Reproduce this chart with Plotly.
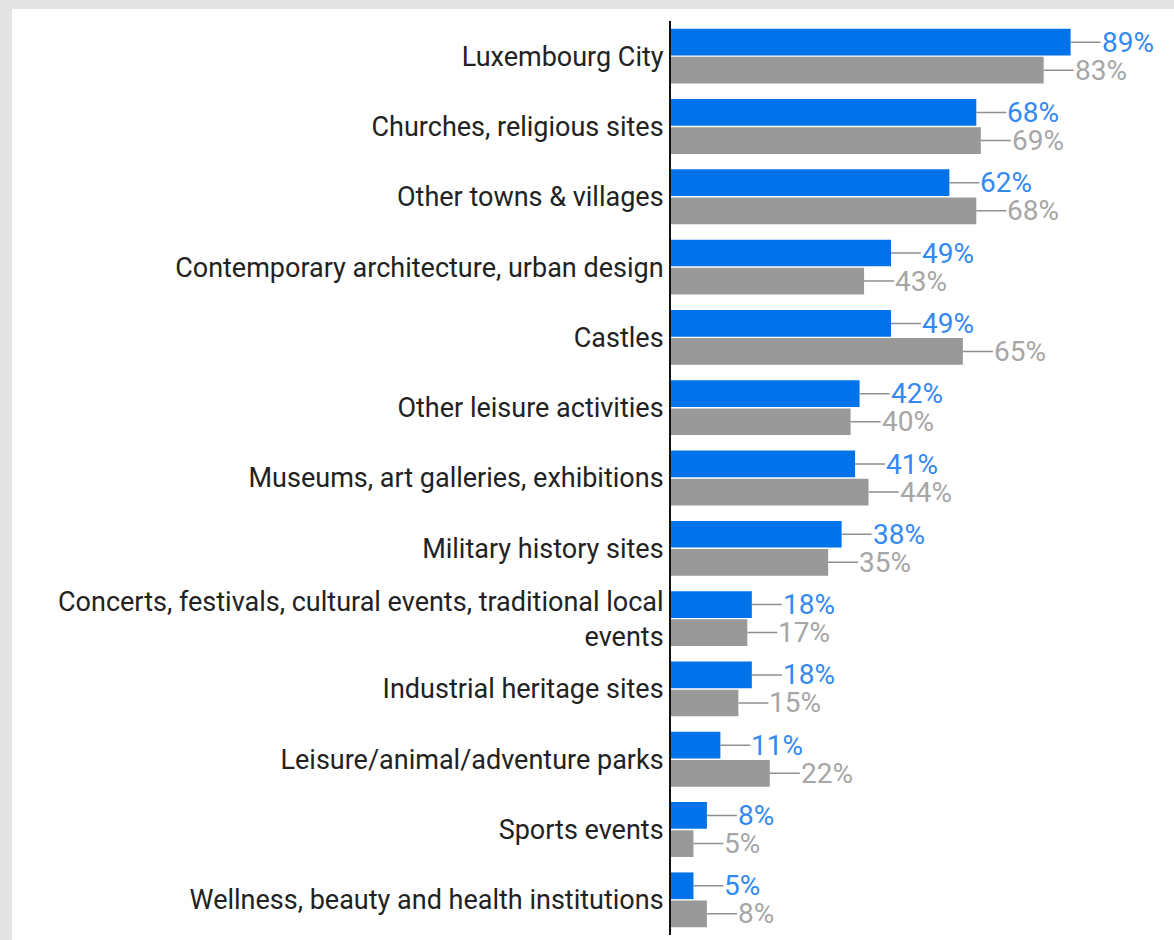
import plotly.graph_objects as go

categories = [
    "Luxembourg City",
    "Churches, religious sites",
    "Other towns & villages",
    "Contemporary architecture, urban design",
    "Castles",
    "Other leisure activities",
    "Museums, art galleries, exhibitions",
    "Military history sites",
    "Concerts, festivals, cultural events, traditional local<br>events",
    "Industrial heritage sites",
    "Leisure/animal/adventure parks",
    "Sports events",
    "Wellness, beauty and health institutions",
]
series_blue = [89, 68, 62, 49, 49, 42, 41, 38, 18, 18, 11, 8, 5]
series_gray = [83, 69, 68, 43, 65, 40, 44, 35, 17, 15, 22, 5, 8]

W, H = 1174, 940
ML, MR, MT, MB = 671, 54, 21, 5
PW, PH = W - ML - MR, H - MT - MB

BLUE = "#0073ea"
GRAY = "#999999"
BLUE_TXT = "#3389f2"
GRAY_TXT = "#a6a6a6"
FONT = "Roboto"

fig = go.Figure()
fig.add_bar(y=categories, x=series_blue, orientation="h", marker_color=BLUE,
            marker_line_width=0, name="A", hoverinfo="skip")
fig.add_bar(y=categories, x=series_gray, orientation="h", marker_color=GRAY,
            marker_line_width=0, name="B", hoverinfo="skip")

# value labels with short leader lines
annotations = []
for cat, vb, vg in zip(categories, series_blue, series_gray):
    for val, shift, col in ((vb, 14, BLUE_TXT), (vg, -14, GRAY_TXT)):
        annotations.append(dict(
            x=val, y=cat, yshift=shift, text=f"{val}%",
            showarrow=True, ax=30, ay=0, axref="pixel", ayref="pixel",
            arrowhead=0, arrowwidth=1.5, arrowcolor="#8f8f8f", standoff=0,
            xanchor="left", yanchor="middle", borderpad=0,
            font=dict(family=FONT, size=28, color=col),
        ))

# white panel over the grey page background
panel = dict(type="rect", xref="paper", yref="paper", layer="below",
             x0=(12 - ML) / PW, x1=(W + 10 - ML) / PW,
             y0=-(MB + 10) / PH, y1=1 + (MT - 9) / PH,
             fillcolor="white", line_width=0)

fig.update_layout(
    width=W, height=H,
    margin=dict(l=ML, r=MR, t=MT, b=MB),
    paper_bgcolor="#e4e4e4",
    plot_bgcolor="white",
    barmode="group", bargap=0.2, bargroupgap=0.05,
    showlegend=False,
    shapes=[panel],
    annotations=annotations,
    font=dict(family=FONT, size=26, color="#222222"),
)
fig.update_xaxes(range=[0, 100], visible=False, showgrid=False, zeroline=False)
fig.update_yaxes(autorange="reversed", showline=True, linecolor="#111111",
                 linewidth=2, showgrid=False, ticks="", ticklabelstandoff=0,
                 tickfont=dict(family=FONT, size=27, color="#222222"))

fig.write_html("out.html")
